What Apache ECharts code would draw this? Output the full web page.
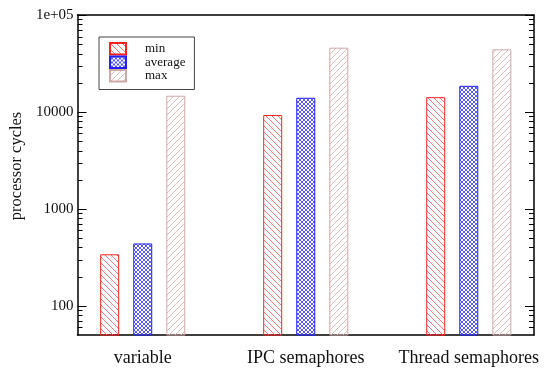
<!DOCTYPE html>
<html>
<head>
<meta charset="utf-8">
<script src="https://cdn.jsdelivr.net/npm/echarts@6/dist/echarts.min.js"></script>
<style>
  html, body { margin: 0; padding: 0; background: #fff; }
  #chart { width: 547px; height: 371px; }
</style>
</head>
<body>
<div id="chart"></div>
<script>
const categories = ['variable', 'IPC semaphores', 'Thread semaphores'];
const minCycles = [340, 9300, 14200];
const avgCycles = [440, 14000, 18600];
const maxCycles = [14700, 46000, 44300];
const majorTicks = [100, 1000, 10000, 100000];
const minorTicks = [
  60, 70, 80, 90,
  200, 300, 400, 500, 600, 700, 800, 900,
  2000, 3000, 4000, 5000, 6000, 7000, 8000, 9000,
  20000, 30000, 40000, 50000, 60000, 70000, 80000, 90000
];

const FONT = 'Liberation Serif';
const X_MIN = -0.4;
const X_MAX = 2.4;

// hatch fills: '\' for min, '/' for max, cross for average
function hatch(color, size, dirs) {
  const c = document.createElement('canvas');
  c.width = c.height = size;
  const g = c.getContext('2d');
  g.strokeStyle = color;
  g.lineWidth = 1;
  for (let k = -1; k <= 1; k++) {
    g.beginPath();
    if (dirs.indexOf('/') >= 0) {
      g.moveTo(k * size, size);
      g.lineTo(k * size + size, 0);
    }
    if (dirs.indexOf('\\') >= 0) {
      g.moveTo(k * size, 0);
      g.lineTo(k * size + size, size);
    }
    g.stroke();
  }
  return { image: c, repeat: 'repeat' };
}

const myChart = echarts.init(document.getElementById('chart'));

function toPairs(values) {
  return values.map((v, i) => [i, v]);
}

// tick marks on both sides of the frame, placed through the y axis scale
const tickData = majorTicks.map(v => [X_MIN, v, 9]).concat(minorTicks.map(v => [X_MIN, v, 5]));

function renderTick(params, api) {
  const v = api.value(1);
  const len = api.value(2);
  const left = api.coord([X_MIN, v]);
  const right = api.coord([X_MAX, v]);
  const y = Math.round(left[1]) + 0.5;
  return {
    type: 'group',
    children: [
      { type: 'line', shape: { x1: left[0], y1: y, x2: left[0] + len, y2: y }, style: { stroke: '#000', lineWidth: 1 } },
      { type: 'line', shape: { x1: right[0], y1: y, x2: right[0] - len, y2: y }, style: { stroke: '#000', lineWidth: 1 } }
    ]
  };
}

function logAxis(position, withLabels) {
  return {
    type: 'log',
    logBase: 10,
    min: 50,
    max: 100000,
    position: position,
    axisLine: { show: true, onZero: false, lineStyle: { color: '#000', width: 1.5 } },
    splitLine: { show: false },
    axisTick: { show: false },
    axisLabel: {
      show: withLabels,
      customValues: majorTicks,
      margin: 4,
      fontFamily: FONT,
      fontSize: 15,
      color: '#111',
      formatter: v => (v >= 100000 ? '1e+05' : String(Math.round(v)))
    }
  };
}

function catAxis(position, withLabels) {
  return {
    type: 'value',
    min: X_MIN,
    max: X_MAX,
    interval: 0.2,
    position: position,
    axisLine: { show: true, onZero: false, lineStyle: { color: '#000', width: 1.5 } },
    axisTick: { show: false },
    splitLine: { show: false },
    axisLabel: {
      show: withLabels,
      margin: 14,
      fontFamily: FONT,
      fontSize: 18,
      color: '#111',
      formatter: v => {
        const r = Math.round(v);
        return Math.abs(v - r) < 1e-6 && r >= 0 && r < categories.length ? categories[r] : '';
      }
    }
  };
}

const option = {
  animation: false,
  backgroundColor: '#fff',
  grid: {
    left: 76,
    right: 13,
    top: 15,
    bottom: 36
  },
  legend: {
    data: ['min', 'average', 'max'],
    orient: 'vertical',
    left: 99,
    top: 37,
    itemWidth: 16,
    itemHeight: 11.5,
    itemGap: 0,
    padding: [5, 9, 7, 10],
    borderColor: '#444',
    borderWidth: 1,
    icon: 'rect',
    textStyle: {
      fontFamily: FONT,
      fontSize: 13,
      lineHeight: 11,
      color: '#111',
      padding: [0, 0, 0, 14]
    }
  },
  xAxis: [catAxis('bottom', true), catAxis('top', false)],
  yAxis: [
    Object.assign(logAxis('left', true), {
      name: 'processor cycles',
      nameLocation: 'middle',
      nameGap: 45,
      nameTextStyle: { fontFamily: FONT, fontSize: 16.5, color: '#111', padding: [0, 0, 0, 18] }
    }),
    logAxis('right', false)
  ],
  series: [
    {
      name: 'min',
      type: 'bar',
      data: toPairs(minCycles),
      barWidth: 19,
      barGap: '74%',
      itemStyle: { color: hatch('#ff7a7a', 6, '\\'), borderColor: '#ff2020', borderWidth: 1 }
    },
    {
      name: 'average',
      type: 'bar',
      data: toPairs(avgCycles),
      barWidth: 19,
      barGap: '74%',
      itemStyle: { color: hatch('#5a5aff', 4, '/\\'), borderColor: '#2020ff', borderWidth: 1 }
    },
    {
      name: 'max',
      type: 'bar',
      data: toPairs(maxCycles),
      barWidth: 19,
      barGap: '74%',
      itemStyle: { color: hatch('#dcc0c0', 6, '/'), borderColor: '#cfa8a8', borderWidth: 1 }
    },
    {
      name: 'ticks',
      type: 'custom',
      data: tickData,
      encode: { x: 0, y: 1 },
      renderItem: renderTick,
      silent: true,
      clip: false,
      z: 5
    }
  ]
};

myChart.setOption(option);
</script>
</body>
</html>
